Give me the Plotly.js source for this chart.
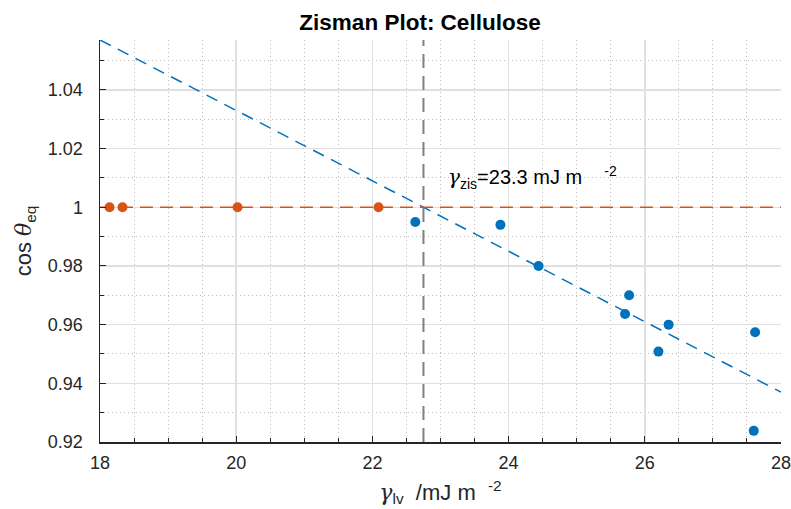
<!DOCTYPE html>
<html>
<head>
<meta charset="utf-8">
<script src="https://cdn.plot.ly/plotly-3.0.1.min.js"></script>
<style>html,body{margin:0;padding:0;background:#fff;}#chart{width:791px;height:509px;}</style>
</head>
<body>
<div id="chart"></div>
<script>
// Data
const wettingGamma = [22.63, 23.88, 24.44, 25.77, 25.71, 26.35, 26.20, 27.62, 27.60];
const wettingCos   = [0.995, 0.994, 0.980, 0.970, 0.9636, 0.960, 0.9508, 0.9574, 0.9238];
const spreadGamma  = [18.14, 18.33, 20.02, 22.09];
const spreadCos    = [1, 1, 1, 1];
const fitSlope = -0.012;
const fitIntercept = 1.273;
const zismanGamma = 22.75;
const xRange = [18, 28];
const yRange = [0.92, 1.057];
const xTicks = [18, 20, 22, 24, 26, 28];
const yTicks = [0.92, 0.94, 0.96, 0.98, 1, 1.02, 1.04];
const yTickText = ['0.92', '0.94', '0.96', '0.98', '1', '1.02', '1.04'];

const blue = '#0072BD', orange = '#D95319';
const fitX = xRange.slice();
const fitY = fitX.map(x => fitIntercept + fitSlope * x);

const traces = [
  {x: fitX, y: fitY, mode: 'lines', line: {color: blue, width: 1.5, dash: '12px,8px'}, hoverinfo: 'skip'},
  {x: xRange.slice(), y: [1, 1], mode: 'lines', line: {color: orange, width: 1.5, dash: '13px,7px'}, hoverinfo: 'skip'},
  {x: [zismanGamma, zismanGamma], y: yRange.slice(), mode: 'lines', line: {color: '#808080', width: 2, dash: '14px,8px'}, hoverinfo: 'skip'},
  {x: wettingGamma, y: wettingCos, mode: 'markers', marker: {color: blue, size: 10}},
  {x: spreadGamma, y: spreadCos, mode: 'markers', marker: {color: orange, size: 10}}
];

const font = 'Liberation Sans, Arial, Helvetica, sans-serif';
const serif = 'DejaVu Serif, Liberation Serif, serif';
const layout = {
  width: 791, height: 509,
  margin: {l: 99.5, r: 10, t: 40, b: 67},
  paper_bgcolor: '#fff', plot_bgcolor: '#fff',
  showlegend: false,
  font: {family: font, color: '#262626'},
  title: {text: '<b>Zisman Plot: Cellulose</b>', font: {family: font, size: 22.5, color: '#000'}, x: 0.531, xanchor: 'center', y: 0.957, yanchor: 'middle'},
  xaxis: {
    range: xRange, tickvals: xTicks, ticktext: xTicks.map(String),
    showline: true, linecolor: '#262626', linewidth: 1.5, mirror: false,
    ticks: 'inside', ticklen: 6, tickcolor: '#262626', tickwidth: 1,
    showgrid: true, gridcolor: '#e0e0e0', gridwidth: 1.5, zeroline: false,
    tickfont: {size: 18, color: '#262626'}, ticklabelstandoff: 4, ticklabeloverflow: 'allow',
    minor: {dtick: 0.5, tick0: 18, ticks: 'inside', ticklen: 4, tickcolor: '#262626', showgrid: true, gridcolor: '#bdbdbd', griddash: '1px,3px', gridwidth: 1},
    title: {text: '<span style="font-family:' + serif + ';font-style:italic">γ</span><sub>lv</sub>  /mJ m  <sup>-2</sup>', font: {size: 22, color: '#262626'}, standoff: 12}
  },
  yaxis: {
    range: yRange, tickvals: yTicks, ticktext: yTickText,
    showline: true, linecolor: '#262626', linewidth: 1.5, mirror: false,
    ticks: 'inside', ticklen: 6, tickcolor: '#262626', tickwidth: 1,
    showgrid: true, gridcolor: '#e0e0e0', gridwidth: 1.5, zeroline: false,
    tickfont: {size: 18, color: '#262626'}, ticklabelstandoff: 12, ticklabeloverflow: 'allow',
    minor: {dtick: 0.01, tick0: 0.92, ticks: 'inside', ticklen: 4, tickcolor: '#262626', showgrid: true, gridcolor: '#bdbdbd', griddash: '1px,3px', gridwidth: 1},
    title: {text: 'cos <span style="font-family:' + serif + ';font-style:italic">θ</span><sub>eq</sub>', font: {size: 22, color: '#262626'}, standoff: 10}
  },
  annotations: [{
    x: 23.08, y: 1.0103, xref: 'x', yref: 'y', xanchor: 'left', yanchor: 'middle', showarrow: false,
    text: '<span style="font-family:' + serif + ';font-style:italic">γ</span><sub>zis</sub>=23.3 mJ m    <sup>-2</sup>',
    font: {family: font, size: 20, color: '#000'}
  }]
};

Plotly.newPlot('chart', traces, layout, {displayModeBar: false, staticPlot: true});
</script>
</body>
</html>
